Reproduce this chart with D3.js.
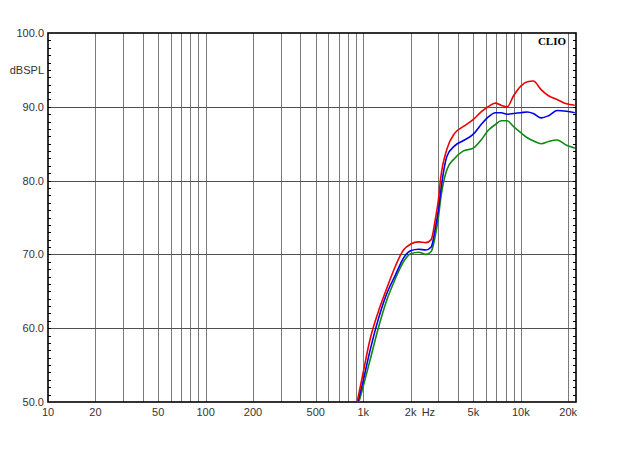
<!DOCTYPE html>
<html><head><meta charset="utf-8">
<script src="https://cdn.jsdelivr.net/npm/d3@7"></script>
<style>body{margin:0;background:#fff}svg{display:block}</style>
</head><body>
<svg id="c" width="624" height="468"></svg>
<script>
const freqs = [916,1000,1100,1250,1400,1600,1800,2000,2250,2500,2700,2865,3000,3100,3400,3800,4300,5000,5600,6200,6900,7500,8200,9000,10000,11000,12000,13500,15000,17000,19500,22000];
const redSeries   = [50,54.0,58.3,62.3,65.2,68.4,70.6,71.4,71.7,71.6,72.0,74.7,77.4,80.3,84.3,86.4,87.3,88.3,89.3,90.0,90.5,90.2,90.0,91.5,92.8,93.4,93.5,92.3,91.5,91.0,90.4,90.2];
const blueSeries  = [49.6,52.9,56.8,61.3,64.5,67.2,69.5,70.5,70.7,70.6,71.0,73.5,76.0,78.5,83.3,84.7,85.4,86.3,87.6,88.6,89.2,89.2,89.0,89.1,89.2,89.3,89.1,88.5,88.8,89.5,89.4,89.2];
const greenSeries = [49.2,52.1,55.5,60.1,63.6,66.7,69.0,70.1,70.3,70.0,70.4,72.5,75.0,77.5,81.5,83.0,84.0,84.4,85.5,86.8,87.6,88.1,88.1,87.3,86.5,85.8,85.4,85.0,85.3,85.5,84.8,84.4];
const xTickValues = [10,20,50,100,200,500,1000,2000,5000,10000,20000];
const xTickLabels = ["10","20","50","100","200","500","1k","2k","5k","10k","20k"];
const yTickValues = [50,60,70,80,90,100];
const yTickLabels = ["50.0","60.0","70.0","80.0","90.0","100.0"];
const yUnit = "dBSPL", xUnit = "Hz", brand = "CLIO";

const svg = d3.select("#c");
const L = 48, R = 576, T = 33, B = 402;
const x = d3.scaleLog().domain([10, 22400]).range([L, R]);
const y = d3.scaleLinear().domain([50, 100]).range([B, T]);

// vertical grid
const vgrid = [];
for (let d = 10; d <= 10000; d *= 10) for (let k = 1; k <= 9; k++) { const f = d * k; if (f > 10 && f < 22400) vgrid.push(f); }
svg.append("g").selectAll("line").data(vgrid).join("line")
  .attr("x1", d => Math.round(x(d)) + 0.5).attr("x2", d => Math.round(x(d)) + 0.5)
  .attr("y1", T).attr("y2", B).attr("stroke", "#7a7a7a").attr("stroke-width", 1);
// horizontal grid
svg.append("g").selectAll("line").data([60,70,80,90]).join("line")
  .attr("y1", d => Math.round(y(d)) + 0.5).attr("y2", d => Math.round(y(d)) + 0.5)
  .attr("x1", L).attr("x2", R).attr("stroke", "#505050").attr("stroke-width", 1);

// minor ticks left/right
const minor = d3.range(51, 100, 1);
svg.append("g").selectAll("line").data(minor).join("line")
  .attr("x1", L).attr("x2", L + 3).attr("y1", d => Math.round(y(d)) + 0.5).attr("y2", d => Math.round(y(d)) + 0.5)
  .attr("stroke", "#000");
svg.append("g").selectAll("line").data(minor).join("line")
  .attr("x1", R - 3).attr("x2", R).attr("y1", d => Math.round(y(d)) + 0.5).attr("y2", d => Math.round(y(d)) + 0.5)
  .attr("stroke", "#000");

// frame
svg.append("rect").attr("x", L).attr("y", T).attr("width", R - L).attr("height", B - T)
  .attr("fill", "none").attr("stroke", "#000").attr("stroke-width", 1.6);

// curves
svg.append("clipPath").attr("id", "clip").append("rect").attr("x", L).attr("y", T).attr("width", R - L).attr("height", B - T);
const line = d3.line().x(d => x(d[0])).y(d => y(d[1])).curve(d3.curveMonotoneX);
const series = [[greenSeries, "#118811"], [blueSeries, "#0000ee"], [redSeries, "#ee0000"]];
series.forEach(([vals, col]) => {
  svg.append("path").attr("clip-path", "url(#clip)")
    .datum(freqs.map((f, i) => [f, vals[i]]))
    .attr("d", line).attr("fill", "none").attr("stroke", col).attr("stroke-width", 1.6);
});

// labels
const font = "Liberation Sans, Arial, sans-serif";
svg.append("g").selectAll("text").data(yTickValues).join("text")
  .attr("x", 44).attr("y", d => y(d) + 4).attr("text-anchor", "end")
  .attr("font-family", font).attr("font-size", 11).attr("fill", "#333")
  .text((d, i) => yTickLabels[i]);
svg.append("text").attr("x", 44).attr("y", y(95) + 4).attr("text-anchor", "end")
  .attr("font-family", font).attr("font-size", 11).attr("fill", "#333").text(yUnit);
svg.append("g").selectAll("text").data(xTickValues).join("text")
  .attr("x", d => x(d)).attr("y", 416).attr("text-anchor", "middle")
  .attr("font-family", font).attr("font-size", 11).attr("fill", "#333")
  .text((d, i) => xTickLabels[i]);
svg.append("text").attr("x", x(3000) - 10).attr("y", 416).attr("text-anchor", "middle")
  .attr("font-family", font).attr("font-size", 11).attr("fill", "#333").text(xUnit);
svg.append("text").attr("x", 566).attr("y", 45).attr("text-anchor", "end")
  .attr("font-family", "Liberation Serif, Times New Roman, serif").attr("font-weight", "bold")
  .attr("font-size", 11).attr("fill", "#000").text(brand);
</script>
</body></html>
